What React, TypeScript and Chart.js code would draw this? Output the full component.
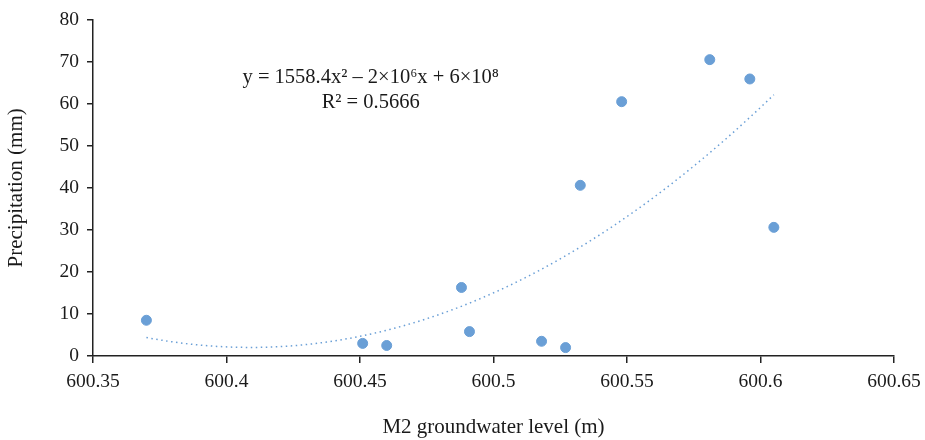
import React, { useEffect, useRef } from "react";
import { Chart, registerables } from "chart.js";

Chart.register(...registerables);

// M2 groundwater level (m)
const groundwater: number[] = [
  600.37, 600.451, 600.46, 600.488, 600.491, 600.518, 600.527, 600.5325, 600.548, 600.581, 600.596, 600.605,
];
// Precipitation (mm)
const precipitation: number[] = [8.5, 3.0, 2.5, 16.3, 5.8, 3.5, 2.0, 40.6, 60.5, 70.5, 65.9, 30.6];

const xTicks: number[] = [600.35, 600.4, 600.45, 600.5, 600.55, 600.6, 600.65];
const yTicks: number[] = [0, 10, 20, 30, 40, 50, 60, 70, 80];

const equationLines: string[] = ["y = 1558.4x² – 2×10⁶x + 6×10⁸", "R² = 0.5666"];

const FONT = "'Liberation Serif', 'DejaVu Serif', serif";
const BLUE = "#6a9fd6";

// least-squares quadratic fit (polynomial trendline) of the data
function quadFit(xs: number[], ys: number[]) {
  const mx = xs.reduce((a, b) => a + b, 0) / xs.length;
  const u = xs.map((x) => x - mx);
  let s0 = xs.length, s1 = 0, s2 = 0, s3 = 0, s4 = 0, t0 = 0, t1 = 0, t2 = 0;
  u.forEach((v, i) => {
    s1 += v; s2 += v * v; s3 += v * v * v; s4 += v * v * v * v;
    t0 += ys[i]; t1 += v * ys[i]; t2 += v * v * ys[i];
  });
  const M = [
    [s0, s1, s2, t0],
    [s1, s2, s3, t1],
    [s2, s3, s4, t2],
  ];
  for (let i = 0; i < 3; i++) {
    let p = i;
    for (let r = i + 1; r < 3; r++) if (Math.abs(M[r][i]) > Math.abs(M[p][i])) p = r;
    [M[i], M[p]] = [M[p], M[i]];
    for (let r = 0; r < 3; r++) {
      if (r === i) continue;
      const f = M[r][i] / M[i][i];
      for (let c = i; c < 4; c++) M[r][c] -= f * M[i][c];
    }
  }
  const c0 = M[0][3] / M[0][0], c1 = M[1][3] / M[1][1], c2 = M[2][3] / M[2][2];
  return (x: number) => {
    const v = x - mx;
    return c0 + c1 * v + c2 * v * v;
  };
}

export default function App() {
  const ref = useRef<HTMLCanvasElement | null>(null);

  useEffect(() => {
    document.body.style.margin = "0";
    if (!ref.current) return;
    const fit = quadFit(groundwater, precipitation);
    const xmin = Math.min(...groundwater);
    const xmax = Math.max(...groundwater);
    const trend: { x: number; y: number }[] = [];
    const N = 80;
    for (let i = 0; i <= N; i++) {
      const x = xmin + ((xmax - xmin) * i) / N;
      trend.push({ x, y: fit(x) });
    }

    const eqPlugin = {
      id: "eq",
      afterDatasetsDraw(chart: any) {
        const ctx = chart.ctx;
        const xs = chart.scales.x;
        const ys = chart.scales.y;
        const cx = xs.getPixelForValue(600.454);
        const y1 = ys.getPixelForValue(66.3);
        ctx.save();
        ctx.fillStyle = "#1a1a1a";
        ctx.font = `20.5px ${FONT}`;
        ctx.textAlign = "center";
        ctx.textBaseline = "middle";
        ctx.fillText(equationLines[0], cx, y1);
        ctx.fillText(equationLines[1], cx, y1 + 25);
        ctx.restore();
      },
    };

    const chart = new Chart(ref.current, {
      type: "scatter",
      data: {
        datasets: [
          {
            type: "line",
            label: "trend",
            data: trend,
            borderColor: BLUE,
            borderWidth: 1.5,
            borderDash: [1.5, 3.5],
            pointRadius: 0,
            fill: false,
            tension: 0,
          } as any,
          {
            label: "Precipitation",
            data: groundwater.map((x, i) => ({ x, y: precipitation[i] })),
            backgroundColor: BLUE,
            borderColor: BLUE,
            pointRadius: 5,
            pointHoverRadius: 5,
          },
        ],
      },
      options: {
        animation: false,
        responsive: false,
        maintainAspectRatio: false,
        layout: { padding: { top: 19, right: 0, left: 0, bottom: 0 } },
        plugins: { legend: { display: false }, tooltip: { enabled: false } },
        scales: {
          x: {
            type: "linear",
            min: 600.35,
            max: 600.65,
            afterBuildTicks: (s: any) => {
              s.ticks = xTicks.map((v) => ({ value: v }));
            },
            afterFit: (s: any) => {
              s.height = 84;
              s.paddingRight = 31;
              s.paddingLeft = 0;
            },
            ticks: {
              color: "#1a1a1a",
              font: { family: FONT, size: 19.5 },
              padding: 7,
              callback: (v: any) => String(Number(Number(v).toFixed(2))),
            },
            grid: { drawOnChartArea: false, drawTicks: true, tickLength: 7, color: "#222", lineWidth: 1.5 },
            border: { display: true, color: "#222", width: 1.5 },
            title: {
              display: true,
              text: "M2 groundwater level (m)",
              color: "#1a1a1a",
              font: { family: FONT, size: 21 },
              padding: { top: 20, bottom: 0 },
            },
          },
          y: {
            type: "linear",
            min: 0,
            max: 80,
            afterBuildTicks: (s: any) => {
              s.ticks = yTicks.map((v) => ({ value: v }));
            },
            afterFit: (s: any) => {
              s.width = 93;
            },
            ticks: {
              color: "#1a1a1a",
              font: { family: FONT, size: 19.5 },
              padding: 8,
            },
            grid: { drawOnChartArea: false, drawTicks: true, tickLength: 6, color: "#222", lineWidth: 1.5 },
            border: { display: true, color: "#222", width: 1.5 },
            title: {
              display: true,
              text: "Precipitation (mm)",
              color: "#1a1a1a",
              font: { family: FONT, size: 21 },
              padding: { top: 4, bottom: 0 },
            },
          },
        },
      },
      plugins: [eqPlugin],
    });
    return () => chart.destroy();
  }, []);

  return (
    <div style={{ width: 925, height: 440 }}>
      <canvas ref={ref} width={925} height={440} style={{ display: "block" }} />
    </div>
  );
}
